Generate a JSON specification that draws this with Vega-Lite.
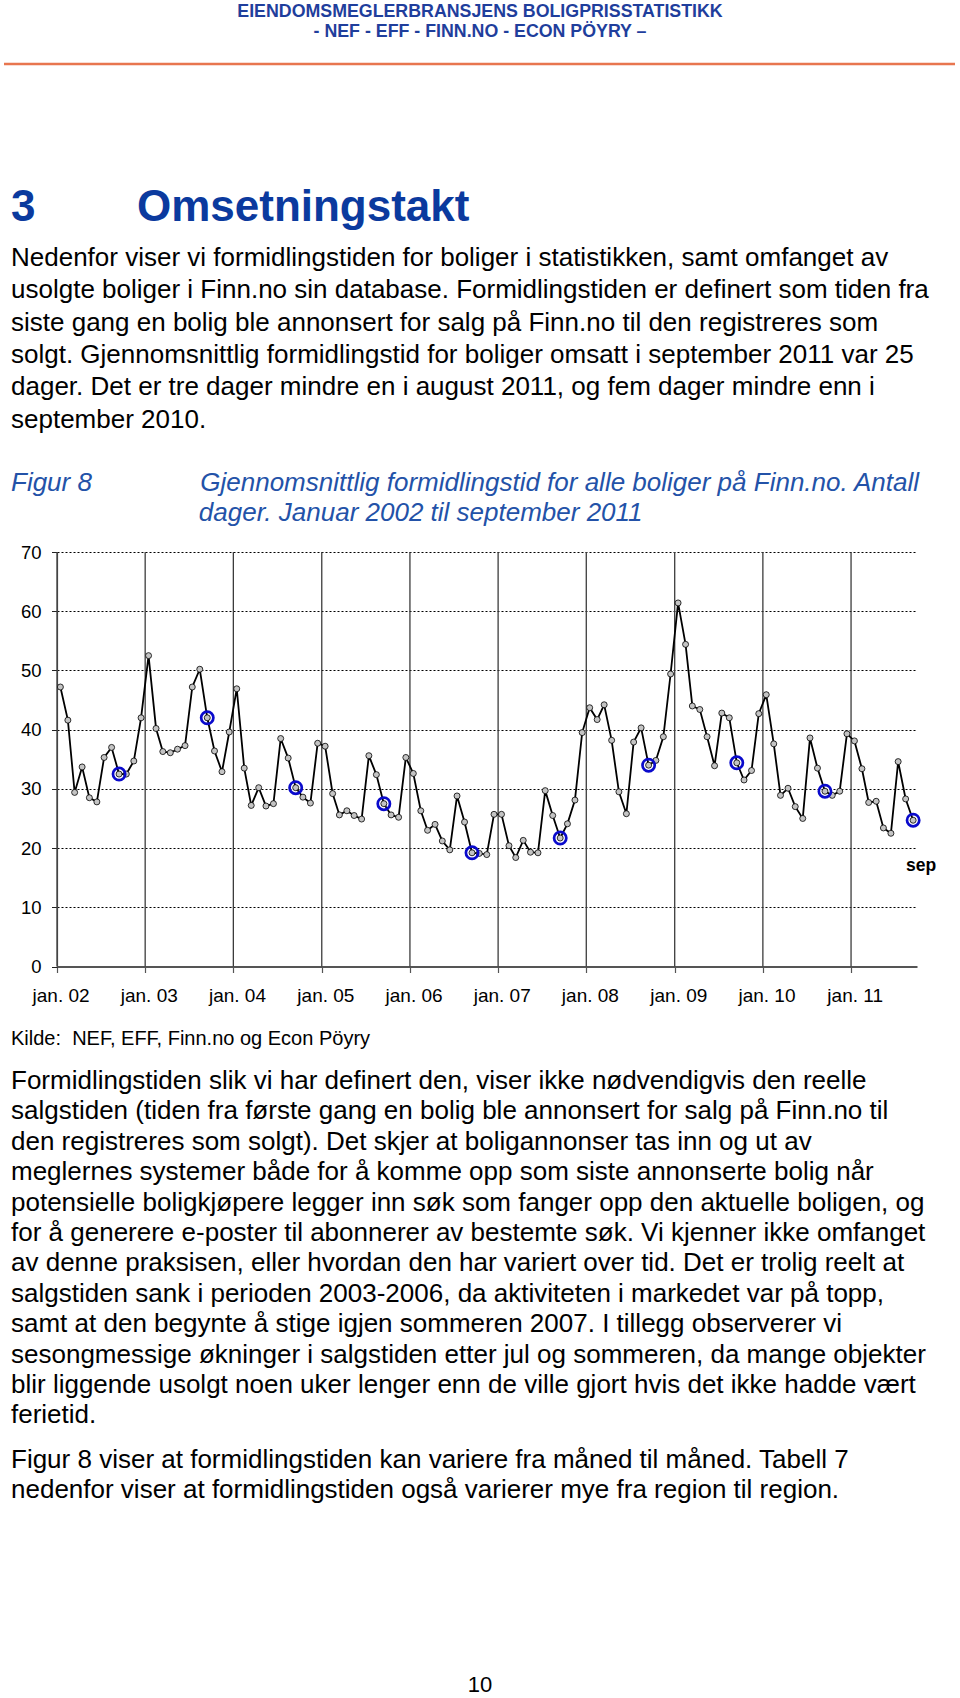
{
  "$schema": "https://vega.github.io/schema/vega-lite/v6.json",
  "width": 960,
  "height": 1698,
  "autosize": {"type": "none"},
  "padding": 0,
  "background": "white",
  "config": {"view": {"stroke": null}, "font": "Liberation Sans"},
  "resolve": {"scale": {"x": "independent", "y": "independent"}},
  "layer": [
    {
      "data": {
        "values": [
          {"date": "2002-01-15", "days": 47.2}, {"date": "2002-02-15", "days": 41.6}, {"date": "2002-03-15", "days": 29.4}, {"date": "2002-04-15", "days": 33.7},
          {"date": "2002-05-15", "days": 28.5}, {"date": "2002-06-15", "days": 27.8}, {"date": "2002-07-15", "days": 35.3}, {"date": "2002-08-15", "days": 37.0},
          {"date": "2002-09-15", "days": 32.5}, {"date": "2002-10-15", "days": 32.5}, {"date": "2002-11-15", "days": 34.7}, {"date": "2002-12-15", "days": 42.0},
          {"date": "2003-01-15", "days": 52.5}, {"date": "2003-02-15", "days": 40.2}, {"date": "2003-03-15", "days": 36.3}, {"date": "2003-04-15", "days": 36.1},
          {"date": "2003-05-15", "days": 36.7}, {"date": "2003-06-15", "days": 37.3}, {"date": "2003-07-15", "days": 47.2}, {"date": "2003-08-15", "days": 50.2},
          {"date": "2003-09-15", "days": 42.0}, {"date": "2003-10-15", "days": 36.4}, {"date": "2003-11-15", "days": 32.9}, {"date": "2003-12-15", "days": 39.6},
          {"date": "2004-01-15", "days": 46.9}, {"date": "2004-02-15", "days": 33.5}, {"date": "2004-03-15", "days": 27.2}, {"date": "2004-04-15", "days": 30.2},
          {"date": "2004-05-15", "days": 27.1}, {"date": "2004-06-15", "days": 27.5}, {"date": "2004-07-15", "days": 38.5}, {"date": "2004-08-15", "days": 35.2},
          {"date": "2004-09-15", "days": 30.2}, {"date": "2004-10-15", "days": 28.6}, {"date": "2004-11-15", "days": 27.6}, {"date": "2004-12-15", "days": 37.7},
          {"date": "2005-01-15", "days": 37.2}, {"date": "2005-02-15", "days": 29.2}, {"date": "2005-03-15", "days": 25.6}, {"date": "2005-04-15", "days": 26.3},
          {"date": "2005-05-15", "days": 25.5}, {"date": "2005-06-15", "days": 24.9}, {"date": "2005-07-15", "days": 35.6}, {"date": "2005-08-15", "days": 32.4},
          {"date": "2005-09-15", "days": 27.5}, {"date": "2005-10-15", "days": 25.6}, {"date": "2005-11-15", "days": 25.2}, {"date": "2005-12-15", "days": 35.3},
          {"date": "2006-01-15", "days": 32.6}, {"date": "2006-02-15", "days": 26.3}, {"date": "2006-03-15", "days": 23.0}, {"date": "2006-04-15", "days": 24.0},
          {"date": "2006-05-15", "days": 21.2}, {"date": "2006-06-15", "days": 19.7}, {"date": "2006-07-15", "days": 28.8}, {"date": "2006-08-15", "days": 24.4},
          {"date": "2006-09-15", "days": 19.2}, {"date": "2006-10-15", "days": 19.1}, {"date": "2006-11-15", "days": 18.9}, {"date": "2006-12-15", "days": 25.7},
          {"date": "2007-01-15", "days": 25.7}, {"date": "2007-02-15", "days": 20.4}, {"date": "2007-03-15", "days": 18.4}, {"date": "2007-04-15", "days": 21.3},
          {"date": "2007-05-15", "days": 19.3}, {"date": "2007-06-15", "days": 19.2}, {"date": "2007-07-15", "days": 29.7}, {"date": "2007-08-15", "days": 25.5},
          {"date": "2007-09-15", "days": 21.7}, {"date": "2007-10-15", "days": 24.1}, {"date": "2007-11-15", "days": 28.1}, {"date": "2007-12-15", "days": 39.5},
          {"date": "2008-01-15", "days": 43.7}, {"date": "2008-02-15", "days": 41.7}, {"date": "2008-03-15", "days": 44.2}, {"date": "2008-04-15", "days": 38.2},
          {"date": "2008-05-15", "days": 29.5}, {"date": "2008-06-15", "days": 25.8}, {"date": "2008-07-15", "days": 37.9}, {"date": "2008-08-15", "days": 40.3},
          {"date": "2008-09-15", "days": 34.0}, {"date": "2008-10-15", "days": 34.8}, {"date": "2008-11-15", "days": 38.8}, {"date": "2008-12-15", "days": 49.4},
          {"date": "2009-01-15", "days": 61.4}, {"date": "2009-02-15", "days": 54.4}, {"date": "2009-03-15", "days": 44.0}, {"date": "2009-04-15", "days": 43.4},
          {"date": "2009-05-15", "days": 38.8}, {"date": "2009-06-15", "days": 33.9}, {"date": "2009-07-15", "days": 42.8}, {"date": "2009-08-15", "days": 42.0},
          {"date": "2009-09-15", "days": 34.4}, {"date": "2009-10-15", "days": 31.5}, {"date": "2009-11-15", "days": 33.1}, {"date": "2009-12-15", "days": 42.7},
          {"date": "2010-01-15", "days": 45.9}, {"date": "2010-02-15", "days": 37.6}, {"date": "2010-03-15", "days": 28.9}, {"date": "2010-04-15", "days": 30.1},
          {"date": "2010-05-15", "days": 27.0}, {"date": "2010-06-15", "days": 25.0}, {"date": "2010-07-15", "days": 38.6}, {"date": "2010-08-15", "days": 33.5},
          {"date": "2010-09-15", "days": 29.6}, {"date": "2010-10-15", "days": 28.9}, {"date": "2010-11-15", "days": 29.6}, {"date": "2010-12-15", "days": 39.3},
          {"date": "2011-01-15", "days": 38.1}, {"date": "2011-02-15", "days": 33.4}, {"date": "2011-03-15", "days": 27.7}, {"date": "2011-04-15", "days": 27.9},
          {"date": "2011-05-15", "days": 23.4}, {"date": "2011-06-15", "days": 22.5}, {"date": "2011-07-15", "days": 34.6}, {"date": "2011-08-15", "days": 28.3},
          {"date": "2011-09-15", "days": 24.7}
        ],
        "format": {"parse": {"date": "utc:'%Y-%m-%d'"}}
      },
      "layer": [
        {
          "transform": [{"filter": "month(datum.date) == 0"}],
          "mark": {"type": "rule", "color": "#3C3C3C", "strokeWidth": 1.3},
          "encoding": {
            "x": {"field": "date", "type": "temporal", "timeUnit": "utcyearmonth", "title": null},
            "y": {"datum": 0, "type": "quantitative", "title": null},
            "y2": {"datum": 70}
          }
        },
        {
          "mark": {"type": "line", "color": "#000000", "strokeWidth": 1.8},
          "encoding": {
            "x": {
              "field": "date", "type": "temporal", "title": null,
              "scale": {"type": "utc", "domain": [{"year": 2002, "month": 1, "date": 1, "utc": true}, {"year": 2011, "month": 10, "date": 1, "utc": true}], "range": [57, 917], "nice": false},
              "axis": {
                "orient": "bottom", "offset": -731.5, "title": null,
                "values": [
                  {"year": 2002, "month": 1, "date": 1, "utc": true}, {"year": 2003, "month": 1, "date": 1, "utc": true},
                  {"year": 2004, "month": 1, "date": 1, "utc": true}, {"year": 2005, "month": 1, "date": 1, "utc": true},
                  {"year": 2006, "month": 1, "date": 1, "utc": true}, {"year": 2007, "month": 1, "date": 1, "utc": true},
                  {"year": 2008, "month": 1, "date": 1, "utc": true}, {"year": 2009, "month": 1, "date": 1, "utc": true},
                  {"year": 2010, "month": 1, "date": 1, "utc": true}, {"year": 2011, "month": 1, "date": 1, "utc": true}
                ],
                "labelExpr": "'jan. ' + utcFormat(datum.value, '%y')",
                "labelOffset": 3.6, "labelPadding": 14, "labelFontSize": 19, "labelColor": "#000000", "labelFont": "Liberation Sans",
                "labelFlush": false, "labelOverlap": false, "labelBound": false,
                "tickSize": 6, "tickColor": "#555555", "tickWidth": 1.2,
                "domainColor": "#555555", "domainWidth": 2, "grid": false
              }
            },
            "y": {
              "field": "days", "type": "quantitative", "title": null,
              "scale": {"domain": [0, 70], "range": [966.5, 552], "nice": false, "zero": false},
              "axis": {
                "orient": "left", "offset": -57, "title": null,
                "values": [0, 10, 20, 30, 40, 50, 60, 70],
                "labelFontSize": 18.5, "labelColor": "#000000", "labelFont": "Liberation Sans", "labelPadding": 10.5,
                "labelFlush": false, "labelOverlap": false, "labelBound": false,
                "tickSize": 5.5, "tickColor": "#222222", "tickWidth": 1,
                "domainColor": "#555555", "domainWidth": 1.2,
                "grid": true, "gridDash": [2, 2], "gridWidth": 1,
                "gridColor": {"condition": {"test": "datum.value === 0", "value": "transparent"}, "value": "#000000"}
              }
            }
          }
        },
        {
          "mark": {"type": "point", "filled": true, "fill": "#C4C4C4", "stroke": "#000000", "strokeWidth": 0.8, "size": 36, "opacity": 1},
          "encoding": {
            "x": {"field": "date", "type": "temporal", "title": null},
            "y": {"field": "days", "type": "quantitative", "title": null}
          }
        },
        {
          "transform": [{"filter": "month(datum.date) == 8"}],
          "mark": {"type": "point", "filled": false, "stroke": "#0A0ACC", "strokeWidth": 2.7, "size": 150, "opacity": 1},
          "encoding": {
            "x": {"field": "date", "type": "temporal", "title": null},
            "y": {"field": "days", "type": "quantitative", "title": null}
          }
        },
        {
          "transform": [{"filter": "year(datum.date) == 2011 && month(datum.date) == 8"}],
          "mark": {"type": "text", "text": "sep", "font": "Liberation Sans", "fontWeight": "bold", "fontSize": 17.5, "color": "#000000", "align": "center", "baseline": "middle", "dx": 8, "dy": 46},
          "encoding": {
            "x": {"field": "date", "type": "temporal", "title": null},
            "y": {"field": "days", "type": "quantitative", "title": null}
          }
        }
      ]
    },
    {
      "data": {"values": [
        {"line": 1, "text": "EIENDOMSMEGLERBRANSJENS BOLIGPRISSTATISTIKK"},
        {"line": 2, "text": "- NEF - EFF - FINN.NO - ECON PÖYRY –"}
      ]},
      "mark": {"type": "text", "font": "Liberation Sans", "fontWeight": "bold", "fontSize": 17.8, "color": "#1F3E9C", "align": "center", "baseline": "alphabetic"},
      "encoding": {
        "x": {"datum": 0.5, "type": "quantitative", "scale": {"domain": [0, 1], "range": [11, 949], "nice": false, "zero": false}, "axis": null},
        "y": {"field": "line", "type": "quantitative", "scale": {"domain": [1, 2], "range": [17, 37], "nice": false, "zero": false}, "axis": null},
        "text": {"field": "text"}
      }
    },
    {
      "data": {"values": [{}]},
      "mark": {"type": "rule", "color": "#E8764F", "strokeWidth": 2.5},
      "encoding": {
        "x": {"datum": 0, "type": "quantitative", "scale": {"domain": [0, 1], "range": [4, 955], "nice": false, "zero": false}, "axis": null},
        "x2": {"datum": 1},
        "y": {"datum": 0, "type": "quantitative", "scale": {"domain": [0, 1], "range": [64, 0], "nice": false, "zero": false}, "axis": null}
      }
    },
    {
      "data": {"values": [
        {"line": 1, "text": "3\u00a0\u00a0\u00a0\u00a0\u00a0\u00a0\u00a0\u00a0\u200aOmsetningstakt"}
      ]},
      "mark": {"type": "text", "font": "Liberation Sans", "fontWeight": "bold", "fontSize": 44, "color": "#0B3A9E", "align": "left", "baseline": "alphabetic"},
      "encoding": {
        "x": {"datum": 0, "type": "quantitative", "scale": {"domain": [0, 1], "range": [11, 949], "nice": false, "zero": false}, "axis": null},
        "y": {"field": "line", "type": "quantitative", "scale": {"domain": [1, 2], "range": [221, 251], "nice": false, "zero": false}, "axis": null},
        "text": {"field": "text"}
      }
    },
    {
      "data": {"values": [
        {"line": 1, "text": "Nedenfor viser vi formidlingstiden for boliger i statistikken, samt omfanget av"},
        {"line": 2, "text": "usolgte boliger i Finn.no sin database. Formidlingstiden er definert som tiden fra"},
        {"line": 3, "text": "siste gang en bolig ble annonsert for salg på Finn.no til den registreres som"},
        {"line": 4, "text": "solgt. Gjennomsnittlig formidlingstid for boliger omsatt i september 2011 var 25"},
        {"line": 5, "text": "dager. Det er tre dager mindre en i august 2011, og fem dager mindre enn i"},
        {"line": 6, "text": "september 2010."}
      ]},
      "mark": {"type": "text", "font": "Liberation Sans", "fontSize": 26, "color": "#000000", "align": "left", "baseline": "alphabetic"},
      "encoding": {
        "x": {"datum": 0, "type": "quantitative", "scale": {"domain": [0, 1], "range": [11, 949], "nice": false, "zero": false}, "axis": null},
        "y": {"field": "line", "type": "quantitative", "scale": {"domain": [1, 2], "range": [266, 298.3], "nice": false, "zero": false}, "axis": null},
        "text": {"field": "text"}
      }
    },
    {
      "data": {"values": [
        {"line": 1, "text": "Figur 8\u00a0\u00a0\u00a0\u00a0\u00a0\u00a0\u00a0\u00a0\u00a0\u00a0\u00a0\u00a0\u00a0\u00a0\u00a0Gjennomsnittlig formidlingstid for alle boliger på Finn.no. Antall"},
        {"line": 2, "text": "\u200b\u00a0\u00a0\u00a0\u00a0\u00a0\u00a0\u00a0\u00a0\u00a0\u00a0\u00a0\u00a0\u00a0\u00a0\u00a0\u00a0\u00a0\u00a0\u00a0\u00a0\u00a0\u00a0\u00a0\u00a0\u00a0\u00a0dager. Januar 2002 til september 2011"}
      ]},
      "mark": {"type": "text", "font": "Liberation Sans", "fontStyle": "italic", "fontSize": 26, "color": "#2352A8", "align": "left", "baseline": "alphabetic"},
      "encoding": {
        "x": {"datum": 0, "type": "quantitative", "scale": {"domain": [0, 1], "range": [11, 949], "nice": false, "zero": false}, "axis": null},
        "y": {"field": "line", "type": "quantitative", "scale": {"domain": [1, 2], "range": [491, 521], "nice": false, "zero": false}, "axis": null},
        "text": {"field": "text"}
      }
    },
    {
      "data": {"values": [
        {"line": 1, "text": "Kilde:\u00a0\u00a0NEF, EFF, Finn.no og Econ Pöyry"}
      ]},
      "mark": {"type": "text", "font": "Liberation Sans", "fontSize": 20, "color": "#000000", "align": "left", "baseline": "alphabetic"},
      "encoding": {
        "x": {"datum": 0, "type": "quantitative", "scale": {"domain": [0, 1], "range": [11, 949], "nice": false, "zero": false}, "axis": null},
        "y": {"field": "line", "type": "quantitative", "scale": {"domain": [1, 2], "range": [1045, 1075], "nice": false, "zero": false}, "axis": null},
        "text": {"field": "text"}
      }
    },
    {
      "data": {"values": [
        {"line": 1, "text": "Formidlingstiden slik vi har definert den, viser ikke nødvendigvis den reelle"},
        {"line": 2, "text": "salgstiden (tiden fra første gang en bolig ble annonsert for salg på Finn.no til"},
        {"line": 3, "text": "den registreres som solgt). Det skjer at boligannonser tas inn og ut av"},
        {"line": 4, "text": "meglernes systemer både for å komme opp som siste annonserte bolig når"},
        {"line": 5, "text": "potensielle boligkjøpere legger inn søk som fanger opp den aktuelle boligen, og"},
        {"line": 6, "text": "for å generere e-poster til abonnerer av bestemte søk. Vi kjenner ikke omfanget"},
        {"line": 7, "text": "av denne praksisen, eller hvordan den har variert over tid. Det er trolig reelt at"},
        {"line": 8, "text": "salgstiden sank i perioden 2003-2006, da aktiviteten i markedet var på topp,"},
        {"line": 9, "text": "samt at den begynte å stige igjen sommeren 2007. I tillegg observerer vi"},
        {"line": 10, "text": "sesongmessige økninger i salgstiden etter jul og sommeren, da mange objekter"},
        {"line": 11, "text": "blir liggende usolgt noen uker lenger enn de ville gjort hvis det ikke hadde vært"},
        {"line": 12, "text": "ferietid."}
      ]},
      "mark": {"type": "text", "font": "Liberation Sans", "fontSize": 26, "color": "#000000", "align": "left", "baseline": "alphabetic"},
      "encoding": {
        "x": {"datum": 0, "type": "quantitative", "scale": {"domain": [0, 1], "range": [11, 949], "nice": false, "zero": false}, "axis": null},
        "y": {"field": "line", "type": "quantitative", "scale": {"domain": [1, 2], "range": [1089, 1119.4], "nice": false, "zero": false}, "axis": null},
        "text": {"field": "text"}
      }
    },
    {
      "data": {"values": [
        {"line": 1, "text": "Figur 8 viser at formidlingstiden kan variere fra måned til måned. Tabell 7"},
        {"line": 2, "text": "nedenfor viser at formidlingstiden også varierer mye fra region til region."}
      ]},
      "mark": {"type": "text", "font": "Liberation Sans", "fontSize": 26, "color": "#000000", "align": "left", "baseline": "alphabetic"},
      "encoding": {
        "x": {"datum": 0, "type": "quantitative", "scale": {"domain": [0, 1], "range": [11, 949], "nice": false, "zero": false}, "axis": null},
        "y": {"field": "line", "type": "quantitative", "scale": {"domain": [1, 2], "range": [1468, 1498], "nice": false, "zero": false}, "axis": null},
        "text": {"field": "text"}
      }
    },
    {
      "data": {"values": [
        {"line": 1, "text": "10"}
      ]},
      "mark": {"type": "text", "font": "Liberation Sans", "fontSize": 22, "color": "#000000", "align": "center", "baseline": "alphabetic"},
      "encoding": {
        "x": {"datum": 0.5, "type": "quantitative", "scale": {"domain": [0, 1], "range": [11, 949], "nice": false, "zero": false}, "axis": null},
        "y": {"field": "line", "type": "quantitative", "scale": {"domain": [1, 2], "range": [1692, 1722], "nice": false, "zero": false}, "axis": null},
        "text": {"field": "text"}
      }
    }
  ]
}
